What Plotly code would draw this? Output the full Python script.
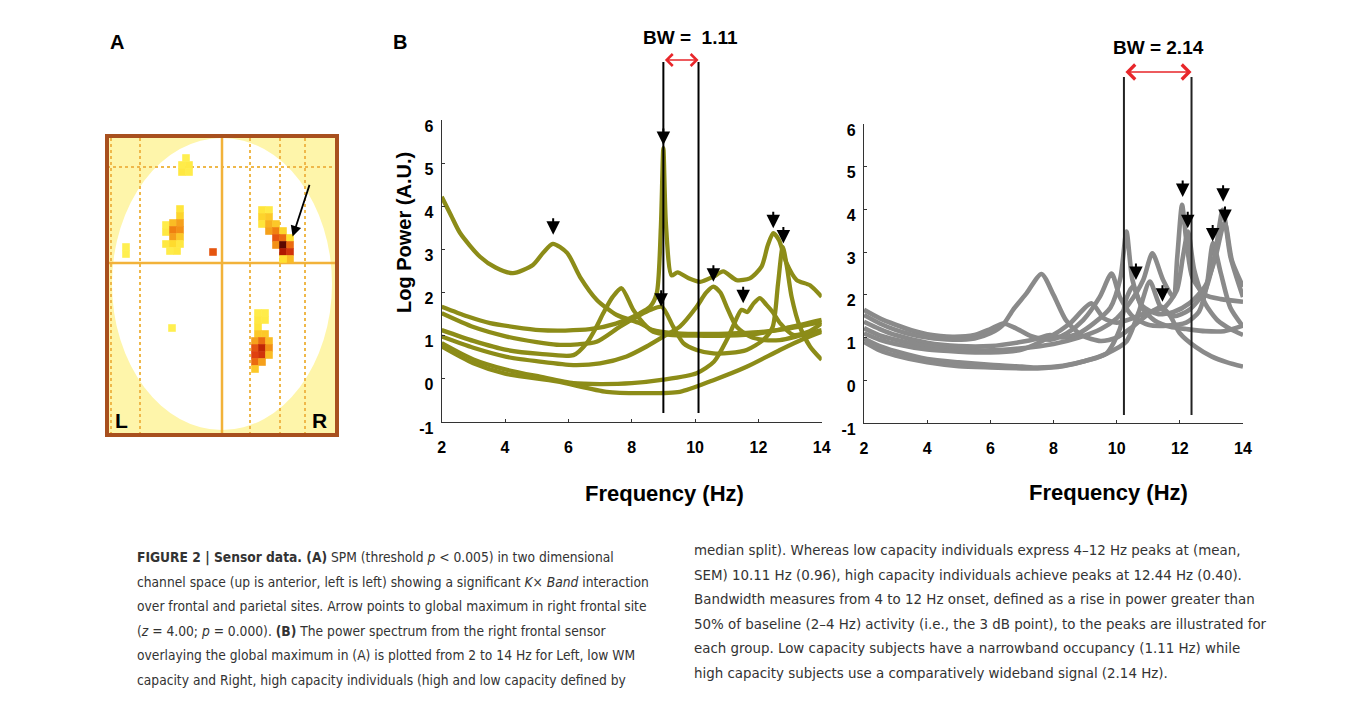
import plotly.graph_objects as go

W, H = 1355, 701
OLIVE = '#8C8C18'
GREY = '#8A8A8A'
AX_FONT = 'Liberation Sans, Arial, sans-serif'
CAP_FONT = 'Liberation Sans Narrow, Arial Narrow, DejaVu Sans Condensed, sans-serif'

# ---------------- Panel B, left: low WM capacity spectra (Hz, log power) ----------------
LOW1_HZ = [2, 2.3, 2.58, 3.21, 3.7, 4.25, 4.88, 5.2, 5.51, 5.96, 6.37, 6.9, 7.53, 8.26, 8.67, 9.3, 10, 11, 12, 13, 14]
LOW1_PW = [4.22, 3.78, 3.38, 2.83, 2.58, 2.45, 2.64, 2.92, 3.13, 2.92, 2.36, 1.83, 1.48, 1.29, 1.13, 1.06, 1.04, 1.05, 1.08, 1.17, 1.32]
LOW2_HZ = [2, 2.8, 3.53, 4.3, 5.1, 5.9, 6.68, 7.5, 8.26, 8.58, 8.79, 8.92, 9.0, 9.08, 9.26, 9.45, 9.8, 10.16, 10.58, 10.89, 11.31, 11.73, 12.1, 12.3, 12.47, 12.65, 12.89, 13.21, 13.63, 14]
LOW2_PW = [1.67, 1.45, 1.29, 1.2, 1.13, 1.12, 1.15, 1.28, 1.52, 1.67, 1.98, 3.5, 5.35, 3.6, 2.4, 2.47, 2.33, 2.25, 2.37, 2.49, 2.29, 2.33, 2.6, 3.1, 3.38, 3.22, 2.68, 2.29, 2.17, 1.9]
LOW3_HZ = [2, 3, 4.05, 5, 5.63, 6.3, 6.89, 7.63, 8.26, 8.6, 8.95, 9.31, 9.63, 10.05, 10.58, 11.1, 11.63, 12.15, 12.45, 12.62, 12.77, 12.9, 13.05, 13.31, 13.63, 14]
LOW3_PW = [1.52, 1.2, 0.98, 0.85, 0.79, 0.8, 0.86, 1.21, 1.48, 1.6, 1.67, 1.21, 0.83, 0.67, 0.59, 0.6, 0.67, 0.9, 1.2, 2.2, 3.06, 2.6, 1.9, 1.21, 0.75, 0.44]
LOW4_HZ = [2, 3, 4.05, 5.1, 6.16, 6.58, 6.89, 7.1, 7.4, 7.68, 8.05, 8.37, 8.68, 9.2, 10, 11, 12, 13, 14]
LOW4_PW = [1.13, 0.88, 0.67, 0.58, 0.55, 0.83, 1.21, 1.52, 1.9, 2.1, 1.6, 1.29, 1.09, 1.02, 1.0, 1.0, 1.05, 1.2, 1.37]
LOW5_HZ = [2, 3, 4.05, 5.1, 6.16, 7.0, 7.84, 8.47, 9.0, 9.52, 10.05, 10.35, 10.58, 10.8, 11.0, 11.31, 11.74, 12.2, 12.68, 13.3, 14]
LOW5_PW = [0.98, 0.72, 0.51, 0.4, 0.32, 0.36, 0.52, 0.75, 0.98, 1.21, 1.67, 2.0, 2.14, 2.0, 1.67, 1.21, 0.98, 0.9, 0.9, 1.0, 1.13]
LOW6_HZ = [2, 3, 4, 5.1, 6.16, 7, 8, 9, 10.05, 10.6, 11.0, 11.25, 11.47, 11.65, 11.85, 12.05, 12.25, 12.45, 12.7, 13.1, 13.6, 14]
LOW6_PW = [0.83, 0.45, 0.22, 0.05, -0.1, -0.12, -0.1, -0.02, 0.13, 0.4, 0.9, 1.3, 1.6, 1.55, 1.75, 1.87, 1.72, 1.55, 1.28, 1.02, 1.1, 1.29]
LOW7_HZ = [2, 3, 4, 5.63, 7.21, 8.26, 9.52, 10.58, 11.63, 12.68, 13.4, 14]
LOW7_PW = [0.75, 0.36, 0.12, -0.06, -0.3, -0.33, -0.3, -0.03, 0.28, 0.67, 0.92, 1.09]
LOW_PEAK_HZ = [5.52, 9.0, 8.93, 10.58, 11.52, 12.47, 12.79]
LOW_PEAK_PW = [3.34, 5.42, 1.67, 2.25, 1.75, 3.49, 3.14]
LOW_BW = [9.0, 10.11]

# ---------------- Panel B, right: high WM capacity spectra ----------------
HIGH1_HZ = [2, 2.5, 3, 3.5, 4, 4.8, 5.5, 6.0, 6.41, 6.8, 7.3, 7.9, 8.42, 8.94, 9.47, 9.84, 10.1, 10.5, 11, 11.6, 12.2, 12.6, 12.85, 13.05, 13.3, 13.6, 14]
HIGH1_PW = [1.65, 1.45, 1.3, 1.17, 1.08, 1.02, 1.06, 1.2, 1.33, 1.22, 1.03, 0.95, 1.1, 1.41, 1.96, 2.5, 1.95, 1.5, 1.3, 1.28, 1.35, 1.6, 2.2, 3.21, 2.5, 1.7, 1.26]
HIGH2_HZ = [2, 2.5, 3, 3.5, 4, 4.8, 5.5, 6.0, 6.4, 6.72, 7.15, 7.62, 8.0, 8.4, 8.9, 9.5, 10, 10.5, 11, 11.42, 11.7, 12.0, 12.5, 13, 13.5, 14]
HIGH2_PW = [1.53, 1.33, 1.18, 1.07, 1.0, 0.95, 0.98, 1.1, 1.3, 1.65, 2.04, 2.49, 2.0, 1.4, 1.05, 0.92, 1.0, 1.25, 1.55, 1.72, 1.5, 1.1, 0.78, 0.56, 0.42, 0.32]
HIGH3_HZ = [2, 2.5, 3, 4, 5, 6, 7, 7.5, 7.89, 8.3, 8.8, 9.3, 9.8, 10.12, 10.31, 10.5, 10.8, 11.3, 11.8, 12.3, 12.8, 13.1, 13.42, 13.65, 14]
HIGH3_PW = [1.37, 1.2, 1.06, 0.88, 0.8, 0.8, 0.9, 0.98, 1.06, 1.0, 1.1, 1.35, 1.7, 2.4, 3.48, 2.35, 1.75, 1.55, 1.6, 1.8, 2.2, 2.8, 3.7, 2.8, 2.19]
HIGH4_HZ = [2, 2.5, 3, 4, 5, 6, 7, 8, 8.8, 9.5, 10, 10.4, 10.84, 11.13, 11.47, 11.79, 11.92, 12.07, 12.2, 12.4, 12.8, 13.3, 14]
HIGH4_PW = [1.22, 1.05, 0.95, 0.8, 0.72, 0.7, 0.75, 0.85, 1.0, 1.2, 1.45, 1.8, 2.35, 2.97, 2.35, 1.96, 2.9, 4.11, 3.3, 2.4, 2.0, 1.9, 1.84]
HIGH5_HZ = [2, 2.5, 3, 4, 5, 6, 7, 7.89, 8.52, 9.2, 9.6, 10, 10.5, 11, 11.5, 11.9, 12.1, 12.26, 12.45, 12.8, 13.2, 13.6, 14]
HIGH5_PW = [1.1, 0.95, 0.85, 0.72, 0.67, 0.65, 0.72, 1.02, 1.33, 1.8, 1.45, 1.35, 1.45, 1.6, 1.7, 2.1, 2.9, 3.48, 2.6, 1.8, 1.4, 1.2, 1.06]
HIGH6_HZ = [2, 2.5, 3, 4, 5, 6, 7, 7.5, 8.3, 9, 9.7, 10.3, 10.7, 11.05, 11.4, 11.8, 12.3, 12.8, 13.1, 13.36, 13.6, 14]
HIGH6_PW = [0.98, 0.8, 0.68, 0.5, 0.42, 0.36, 0.32, 0.3, 0.34, 0.45, 0.63, 0.9, 1.6, 2.31, 1.7, 1.5, 1.65, 2.1, 2.9, 3.99, 2.9, 1.95]
HIGH7_HZ = [2, 2.5, 3, 4, 5, 6, 7, 7.5, 8.3, 9, 9.68, 10.1, 10.3, 10.52, 10.8, 11.2, 11.7, 12.2, 12.8, 13.4, 14]
HIGH7_PW = [0.9, 0.7, 0.58, 0.42, 0.33, 0.3, 0.28, 0.28, 0.33, 0.45, 0.63, 1.2, 1.9, 2.2, 1.7, 1.4, 1.25, 1.2, 1.15, 1.15, 1.28]
HIGH_PEAK_HZ = [12.09, 13.37, 13.43, 12.25, 13.04, 10.61, 11.45]
HIGH_PEAK_PW = [4.29, 4.18, 3.68, 3.56, 3.25, 2.35, 1.84]
HIGH_BW = [10.23, 12.37]

FREQ_TICKS = [2, 4, 6, 8, 10, 12, 14]
POW_TICKS = [-1, 0, 1, 2, 3, 4, 5, 6]

# ---------------- Panel A: SPM map cells (map units, intensity 0..1) ----------------
SPM_X = [-20, -16.5, -20, -16.5, -18,
         -21, -21, -28, -24.5, -21, -28, -24.5, -21, -24.5, -21, -28, -24.5, -21, -26, -22.5,
         -48, -48, -4.5, -25,
         20, 23.5, 20, 23.5, 20, 23.5, 27, 23.5, 27, 30.5, 27, 30.5, 34, 27, 30.5, 34, 30.5, 34, 34, 30.5,
         18, 21.5, 18, 21.5, 18, 18, 21.5, 16.5, 20, 23.5, 16.5, 20, 23.5, 16.5, 20, 23.5, 16.5, 20, 16.5]
SPM_Y = [49, 49, 45.5, 45.5, 52.5,
         27, 23.5, 19, 20, 20, 15.5, 16.5, 16.5, 13, 13, 9.5, 9.5, 9.5, 6, 6,
         8, 4.5, 5.5, -32.5,
         26.5, 26.5, 23, 23, 19.5, 19.5, 19.5, 16, 16, 16, 12.5, 12.5, 12.5, 9, 9, 9, 5.5, 5.5, 2, 2,
         -25, -25, -28.5, -28.5, -32, -35.5, -35.5, -39, -39, -39, -42.5, -42.5, -42.5, -46, -46, -46, -49.5, -49.5, -53]
SPM_Z = [0.08, 0.1, 0.12, 0.08, 0.05,
         0.15, 0.25, 0.08, 0.35, 0.45, 0.12, 0.55, 0.5, 0.45, 0.3, 0.12, 0.22, 0.12, 0.08, 0.12,
         0.05, 0.05, 0.65, 0.05,
         0.15, 0.1, 0.25, 0.3, 0.15, 0.4, 0.3, 0.45, 0.55, 0.25, 0.65, 0.6, 0.2, 0.5, 0.95, 0.6, 0.85, 0.75, 0.35, 0.2,
         0.08, 0.08, 0.12, 0.1, 0.15, 0.3, 0.3, 0.45, 0.6, 0.35, 0.65, 0.8, 0.5, 0.7, 0.75, 0.35, 0.6, 0.45, 0.3]
SPM_ARROW = dict(tip=(35.3, 13.2), tail=(44, 39.8))


def px(x):
    return x / W


def py(y):
    return 1 - y / H


low = [(LOW1_HZ, LOW1_PW), (LOW2_HZ, LOW2_PW), (LOW3_HZ, LOW3_PW), (LOW4_HZ, LOW4_PW),
       (LOW5_HZ, LOW5_PW), (LOW6_HZ, LOW6_PW), (LOW7_HZ, LOW7_PW)]
high = [(HIGH1_HZ, HIGH1_PW), (HIGH2_HZ, HIGH2_PW), (HIGH3_HZ, HIGH3_PW), (HIGH4_HZ, HIGH4_PW),
        (HIGH5_HZ, HIGH5_PW), (HIGH6_HZ, HIGH6_PW), (HIGH7_HZ, HIGH7_PW)]

fig = go.Figure()
for f, p in low:
    fig.add_trace(go.Scatter(x=f, y=p, mode='lines', xaxis='x', yaxis='y', hoverinfo='skip',
                             line=dict(color=OLIVE, width=4.3, shape='spline', smoothing=0.7), showlegend=False))
for f, p in high:
    fig.add_trace(go.Scatter(x=f, y=p, mode='lines', xaxis='x2', yaxis='y2', hoverinfo='skip',
                             line=dict(color=GREY, width=4.6, shape='spline', smoothing=0.7), showlegend=False))

fig.add_trace(go.Scatter(
    x=SPM_X, y=SPM_Y, mode='markers', xaxis='x3', yaxis='y3', hoverinfo='skip', showlegend=False,
    marker=dict(symbol='square', size=7.6, color=SPM_Z, cmin=0, cmax=1, line=dict(width=0),
                colorscale=[[0, '#FFF45A'], [0.2, '#FFE030'], [0.4, '#F8B020'], [0.55, '#F08010'],
                            [0.7, '#E04010'], [0.85, '#B01800'], [1, '#300000']])))

tickfont = dict(family=AX_FONT, size=16, color='black', weight='bold')
common_x = dict(range=[2, 14], tickvals=FREQ_TICKS, ticktext=[str(t) for t in FREQ_TICKS], ticks='inside',
                ticklen=3, tickcolor='#333', showline=True, linecolor='#333', linewidth=1.2, showgrid=False,
                zeroline=False, tickfont=tickfont, ticklabelstandoff=11, automargin=False)
common_y = dict(range=[-1, 6], tickvals=POW_TICKS, ticktext=[str(t) for t in POW_TICKS], ticks='inside',
                ticklen=3, tickcolor='#333', showline=True, linecolor='#333', linewidth=1.2, showgrid=False,
                zeroline=False, tickfont=tickfont, ticklabelstandoff=4, ticklabelshift=6, automargin=False)

fig.update_layout(
    width=W, height=H, autosize=False, margin=dict(l=0, r=0, t=0, b=0, pad=0),
    paper_bgcolor='white', plot_bgcolor='white',
    xaxis=dict(domain=[px(441.7), px(821.7)], anchor='y', **common_x),
    yaxis=dict(domain=[py(422), py(120)], anchor='x', **common_y),
    xaxis2=dict(domain=[px(864), px(1243)], anchor='y2', **common_x),
    yaxis2=dict(domain=[py(423), py(124)], anchor='x2', **common_y),
    xaxis3=dict(domain=[px(105), px(339)], anchor='y3', range=[-58.5, 58.5], visible=False, automargin=False),
    yaxis3=dict(domain=[py(437), py(134)], anchor='x3', range=[-87, 64.5], visible=False, automargin=False),
)

shapes = []
# Panel A background, head outline, grid
shapes.append(dict(type='rect', xref='x3', yref='y3', x0=-57.5, x1=57.5, y0=-86, y1=63.5,
                   fillcolor='#FEF5AA', line=dict(width=0), layer='below'))
shapes.append(dict(type='circle', xref='x3', yref='y3', x0=-55, x1=55, y0=-83.5, y1=62.5,
                   fillcolor='white', line=dict(width=0), layer='below'))
for gx in [-55.5, -41, 14, 29, 41.5]:
    shapes.append(dict(type='line', xref='x3', yref='y3', x0=gx, x1=gx, y0=-86, y1=63.5,
                       line=dict(color='#EFB84A', width=2, dash='dot'), layer='below'))
shapes.append(dict(type='line', xref='x3', yref='y3', x0=-57.5, x1=57.5, y0=48, y1=48,
                   line=dict(color='#EFB84A', width=2, dash='dot'), layer='below'))
shapes.append(dict(type='line', xref='x3', yref='y3', x0=0, x1=0, y0=-86, y1=63.5,
                   line=dict(color='#F2B23A', width=2.5), layer='below'))
shapes.append(dict(type='line', xref='x3', yref='y3', x0=-57.5, x1=57.5, y0=0, y1=0,
                   line=dict(color='#F2B23A', width=2.5), layer='below'))
shapes.append(dict(type='rect', xref='x3', yref='y3', x0=-57.5, x1=57.5, y0=-86, y1=63.5,
                   line=dict(color='#A8501E', width=4), fillcolor='rgba(0,0,0,0)', layer='above'))
# Bandwidth lines
for b in LOW_BW:
    shapes.append(dict(type='line', xref='x', yref='paper', x0=b, x1=b, y0=py(413), y1=py(62),
                       line=dict(color='black', width=2)))
for b in HIGH_BW:
    shapes.append(dict(type='line', xref='x2', yref='paper', x0=b, x1=b, y0=py(415), y1=py(77),
                       line=dict(color='#222', width=2)))
fig.update_layout(shapes=shapes)


def label(x, y, text, font, **kw):
    d = dict(xref='paper', yref='paper', x=px(x), y=py(y), text=text, showarrow=False, font=font,
             xanchor='center', yanchor='middle')
    d.update(kw)
    return d


ann = []
for f, p in zip(LOW_PEAK_HZ, LOW_PEAK_PW):
    ann.append(dict(xref='x', yref='y', x=f, y=p, text='', showarrow=True, ax=0, ay=-18,
                    arrowhead=2, arrowsize=1.35, arrowwidth=2, arrowcolor='black'))
for f, p in zip(HIGH_PEAK_HZ, HIGH_PEAK_PW):
    ann.append(dict(xref='x2', yref='y2', x=f, y=p, text='', showarrow=True, ax=0, ay=-18,
                    arrowhead=2, arrowsize=1.35, arrowwidth=2, arrowcolor='black'))
# red bandwidth arrows
ann.append(dict(xref='x', yref='paper', x=LOW_BW[1], y=py(60), axref='x', ax=LOW_BW[0], ayref='pixel', ay=0,
                text='', showarrow=True, arrowside='end+start', arrowhead=4, startarrowhead=4,
                arrowsize=1.45, startarrowsize=1.45, arrowwidth=1.6, arrowcolor='#E8262A'))
ann.append(dict(xref='x2', yref='paper', x=HIGH_BW[1], y=py(72), axref='x2', ax=HIGH_BW[0], ayref='pixel', ay=0,
                text='', showarrow=True, arrowside='end+start', arrowhead=4, startarrowhead=4,
                arrowsize=1.8, startarrowsize=1.8, arrowwidth=1.6, arrowcolor='#E8262A'))
bwfont = dict(family=AX_FONT, size=19, color='black', weight='bold')
ann.append(label(690, 38, 'BW =  1.11', bwfont))
ann.append(label(1158, 47, 'BW = 2.14', bwfont))
# axis titles
ann.append(label(404, 233, 'Log Power (A.U.)', dict(family=AX_FONT, size=20, color='black', weight='bold'),
                 textangle=-90))
xfont = dict(family=AX_FONT, size=22, color='black', weight='bold')
ann.append(label(664, 494, 'Frequency (Hz)', xfont))
ann.append(label(1108, 492, 'Frequency (Hz)', xfont))
# panel labels
pfont = dict(family=AX_FONT, size=20, color='black', weight='bold')
ann.append(label(117, 42, 'A', pfont))
ann.append(label(400, 42, 'B', pfont))
# panel A arrow and L / R
ann.append(dict(xref='x3', yref='y3', x=SPM_ARROW['tip'][0], y=SPM_ARROW['tip'][1], axref='x3', ayref='y3',
                ax=SPM_ARROW['tail'][0], ay=SPM_ARROW['tail'][1], text='', showarrow=True,
                arrowhead=2, arrowsize=1.2, arrowwidth=1.8, arrowcolor='black'))
lrfont = dict(family=AX_FONT, size=21, color='black', weight='bold')
ann.append(dict(xref='x3', yref='y3', x=-50.5, y=-78.5, text='L', showarrow=False, font=lrfont,
                xanchor='center', yanchor='middle'))
ann.append(dict(xref='x3', yref='y3', x=48.5, y=-78.5, text='R', showarrow=False, font=lrfont,
                xanchor='center', yanchor='middle'))

# caption
LEFT_CAPTION = [
    '<b>FIGURE 2 | Sensor data. (A)</b> SPM (threshold <i>p</i> &lt; 0.005) in two dimensional',
    'channel space (up is anterior, left is left) showing a significant <i>K</i>× <i>Band</i> interaction',
    'over frontal and parietal sites. Arrow points to global maximum in right frontal site',
    '(<i>z</i> = 4.00; <i>p</i> = 0.000). <b>(B)</b> The power spectrum from the right frontal sensor',
    'overlaying the global maximum in (A) is plotted from 2 to 14 Hz for Left, low WM',
    'capacity and Right, high capacity individuals (high and low capacity defined by',
]
RIGHT_CAPTION = [
    'median split). Whereas low capacity individuals express 4–12 Hz peaks at (mean,',
    'SEM) 10.11 Hz (0.96), high capacity individuals achieve peaks at 12.44 Hz (0.40).',
    'Bandwidth measures from 4 to 12 Hz onset, defined as a rise in power greater than',
    '50% of baseline (2–4 Hz) activity (i.e., the 3 dB point), to the peaks are illustrated for',
    'each group. Low capacity subjects have a narrowband occupancy (1.11 Hz) while',
    'high capacity subjects use a comparatively wideband signal (2.14 Hz).',
]
lfont = dict(family=CAP_FONT, size=13.7, color='#333333')
rfont = dict(family=CAP_FONT, size=14.9, color='#333333')
for i, line in enumerate(LEFT_CAPTION):
    ann.append(label(135, 557 + 24.5 * i, line, lfont, xanchor='left'))
for i, line in enumerate(RIGHT_CAPTION):
    ann.append(label(692, 550 + 24.6 * i, line, rfont, xanchor='left'))

fig.update_layout(annotations=ann)
fig.write_html('out.html')
